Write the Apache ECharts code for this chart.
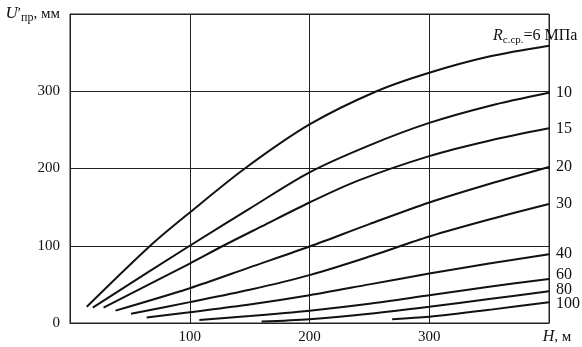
<!DOCTYPE html>
<html>
<head>
<meta charset="utf-8">
<script src="https://cdn.jsdelivr.net/npm/echarts@6/dist/echarts.min.js"></script>
<style>
  html, body { margin: 0; padding: 0; background: #fff; }
  #chart { width: 582px; height: 347px; }
</style>
</head>
<body>
<div id="chart"></div>
<script>
// Upper-layer settlement U'пр versus depth H for several rock strengths R (МПа)
const strengthLabels = ['6', '10', '15', '20', '30', '40', '60', '80', '100'];

// [H, м ; U'пр, мм] points along each curve
const curveR6   = [[14, 21], [67, 100], [100, 143], [146, 200], [200, 257], [256, 300], [300, 324], [350, 345], [400, 359]];
const curveR10  = [[19, 20], [100, 100], [150, 148], [200, 195], [250, 230], [300, 259], [350, 281], [400, 298]];
const curveR15  = [[28, 20], [100, 77], [128, 100], [160, 125], [200, 156], [240, 184], [300, 216], [350, 236], [400, 252]];
const curveR20  = [[38, 16], [100, 45], [150, 72], [200, 99], [250, 128], [300, 156], [350, 180], [400, 202]];
const curveR30  = [[51, 12], [100, 27], [150, 43], [200, 62], [250, 86], [300, 112], [350, 134], [400, 154]];
const curveR40  = [[64, 7], [100, 14], [150, 24], [200, 36], [250, 50], [300, 64], [350, 77], [400, 89]];
const curveR60  = [[108, 4], [150, 9], [200, 16], [250, 25], [300, 36], [350, 47], [400, 57]];
const curveR80  = [[160, 2], [200, 5], [250, 12], [300, 21], [350, 31], [400, 41]];
const curveR100 = [[269, 5], [300, 8], [350, 17], [400, 27]];

const curves = [curveR6, curveR10, curveR15, curveR20, curveR30, curveR40, curveR60, curveR80, curveR100];

// tick values shown on the axes
const xTicks = [100, 200, 300];
const yTicks = [0, 100, 200, 300];

const FONT = '"Liberation Serif", "DejaVu Serif", serif';
const INK = '#111';

// nudges for end labels that sit off their curve ends
const labelOffsets = {
  '6':   [-63, -10],
  '60':  [0, -4],
  '80':  [0, -2],
  '100': [0, 2]
};

const series = curves.map((pts, i) => {
  const name = strengthLabels[i];
  const first = i === 0;
  return {
    name: name,
    type: 'line',
    data: pts,
    smooth: 0.3,
    showSymbol: false,
    symbol: 'none',
    lineStyle: { color: INK, width: 2 },
    endLabel: {
      show: true,
      distance: 7,
      offset: labelOffsets[name] || [0, 0],
      color: INK,
      fontFamily: FONT,
      fontSize: 16,
      formatter: first ? '{r|R}{sub|с.ср.}=' + name + ' МПа' : name,
      rich: {
        r: { fontFamily: FONT, fontSize: 16, fontStyle: 'italic', color: INK, lineHeight: 20 },
        sub: { fontFamily: FONT, fontSize: 11, color: INK, lineHeight: 14, verticalAlign: 'bottom' }
      }
    },
    z: 3
  };
});

const chart = echarts.init(document.getElementById('chart'), null, { renderer: 'canvas' });

chart.setOption({
  animation: false,
  backgroundColor: '#fff',
  grid: {
    left: 70, right: 33, top: 14, bottom: 24,
    show: true, borderColor: '#222', borderWidth: 1, backgroundColor: 'transparent'
  },
  xAxis: {
    type: 'value',
    min: 0, max: 400, interval: 100,
    name: '{i|H}, м',
    nameLocation: 'end',
    nameGap: 8,
    nameTextStyle: {
      color: INK, fontFamily: FONT, fontSize: 15,
      align: 'center', verticalAlign: 'top', padding: [6, 0, 0, 0],
      rich: { i: { fontFamily: FONT, fontSize: 16, fontStyle: 'italic', color: INK } }
    },
    axisLine: { show: true, lineStyle: { color: '#222', width: 1 } },
    axisTick: { show: false },
    splitLine: { show: true, lineStyle: { color: '#222', width: 1 } },
    axisLabel: {
      color: INK, fontFamily: FONT, fontSize: 15, margin: 7,
      formatter: v => (xTicks.indexOf(v) >= 0 ? String(v) : '')
    }
  },
  yAxis: {
    type: 'value',
    min: 0, max: 400, interval: 100,
    name: '{i|U}′{s|пр}, мм',
    nameLocation: 'end',
    nameGap: 0,
    nameTextStyle: {
      color: INK, fontFamily: FONT, fontSize: 15,
      align: 'right', verticalAlign: 'middle', padding: [0, 10, 0, 0],
      rich: {
        i: { fontFamily: FONT, fontSize: 17, fontStyle: 'italic', color: INK, lineHeight: 20 },
        s: { fontFamily: FONT, fontSize: 12, color: INK, lineHeight: 15, verticalAlign: 'bottom' }
      }
    },
    axisLine: { show: true, lineStyle: { color: '#222', width: 1 } },
    axisTick: { show: false },
    splitLine: { show: true, lineStyle: { color: '#222', width: 1 } },
    axisLabel: {
      color: INK, fontFamily: FONT, fontSize: 15, margin: 10,
      formatter: v => (yTicks.indexOf(v) >= 0 ? String(v) : '')
    }
  },
  series: series
});
</script>
</body>
</html>
